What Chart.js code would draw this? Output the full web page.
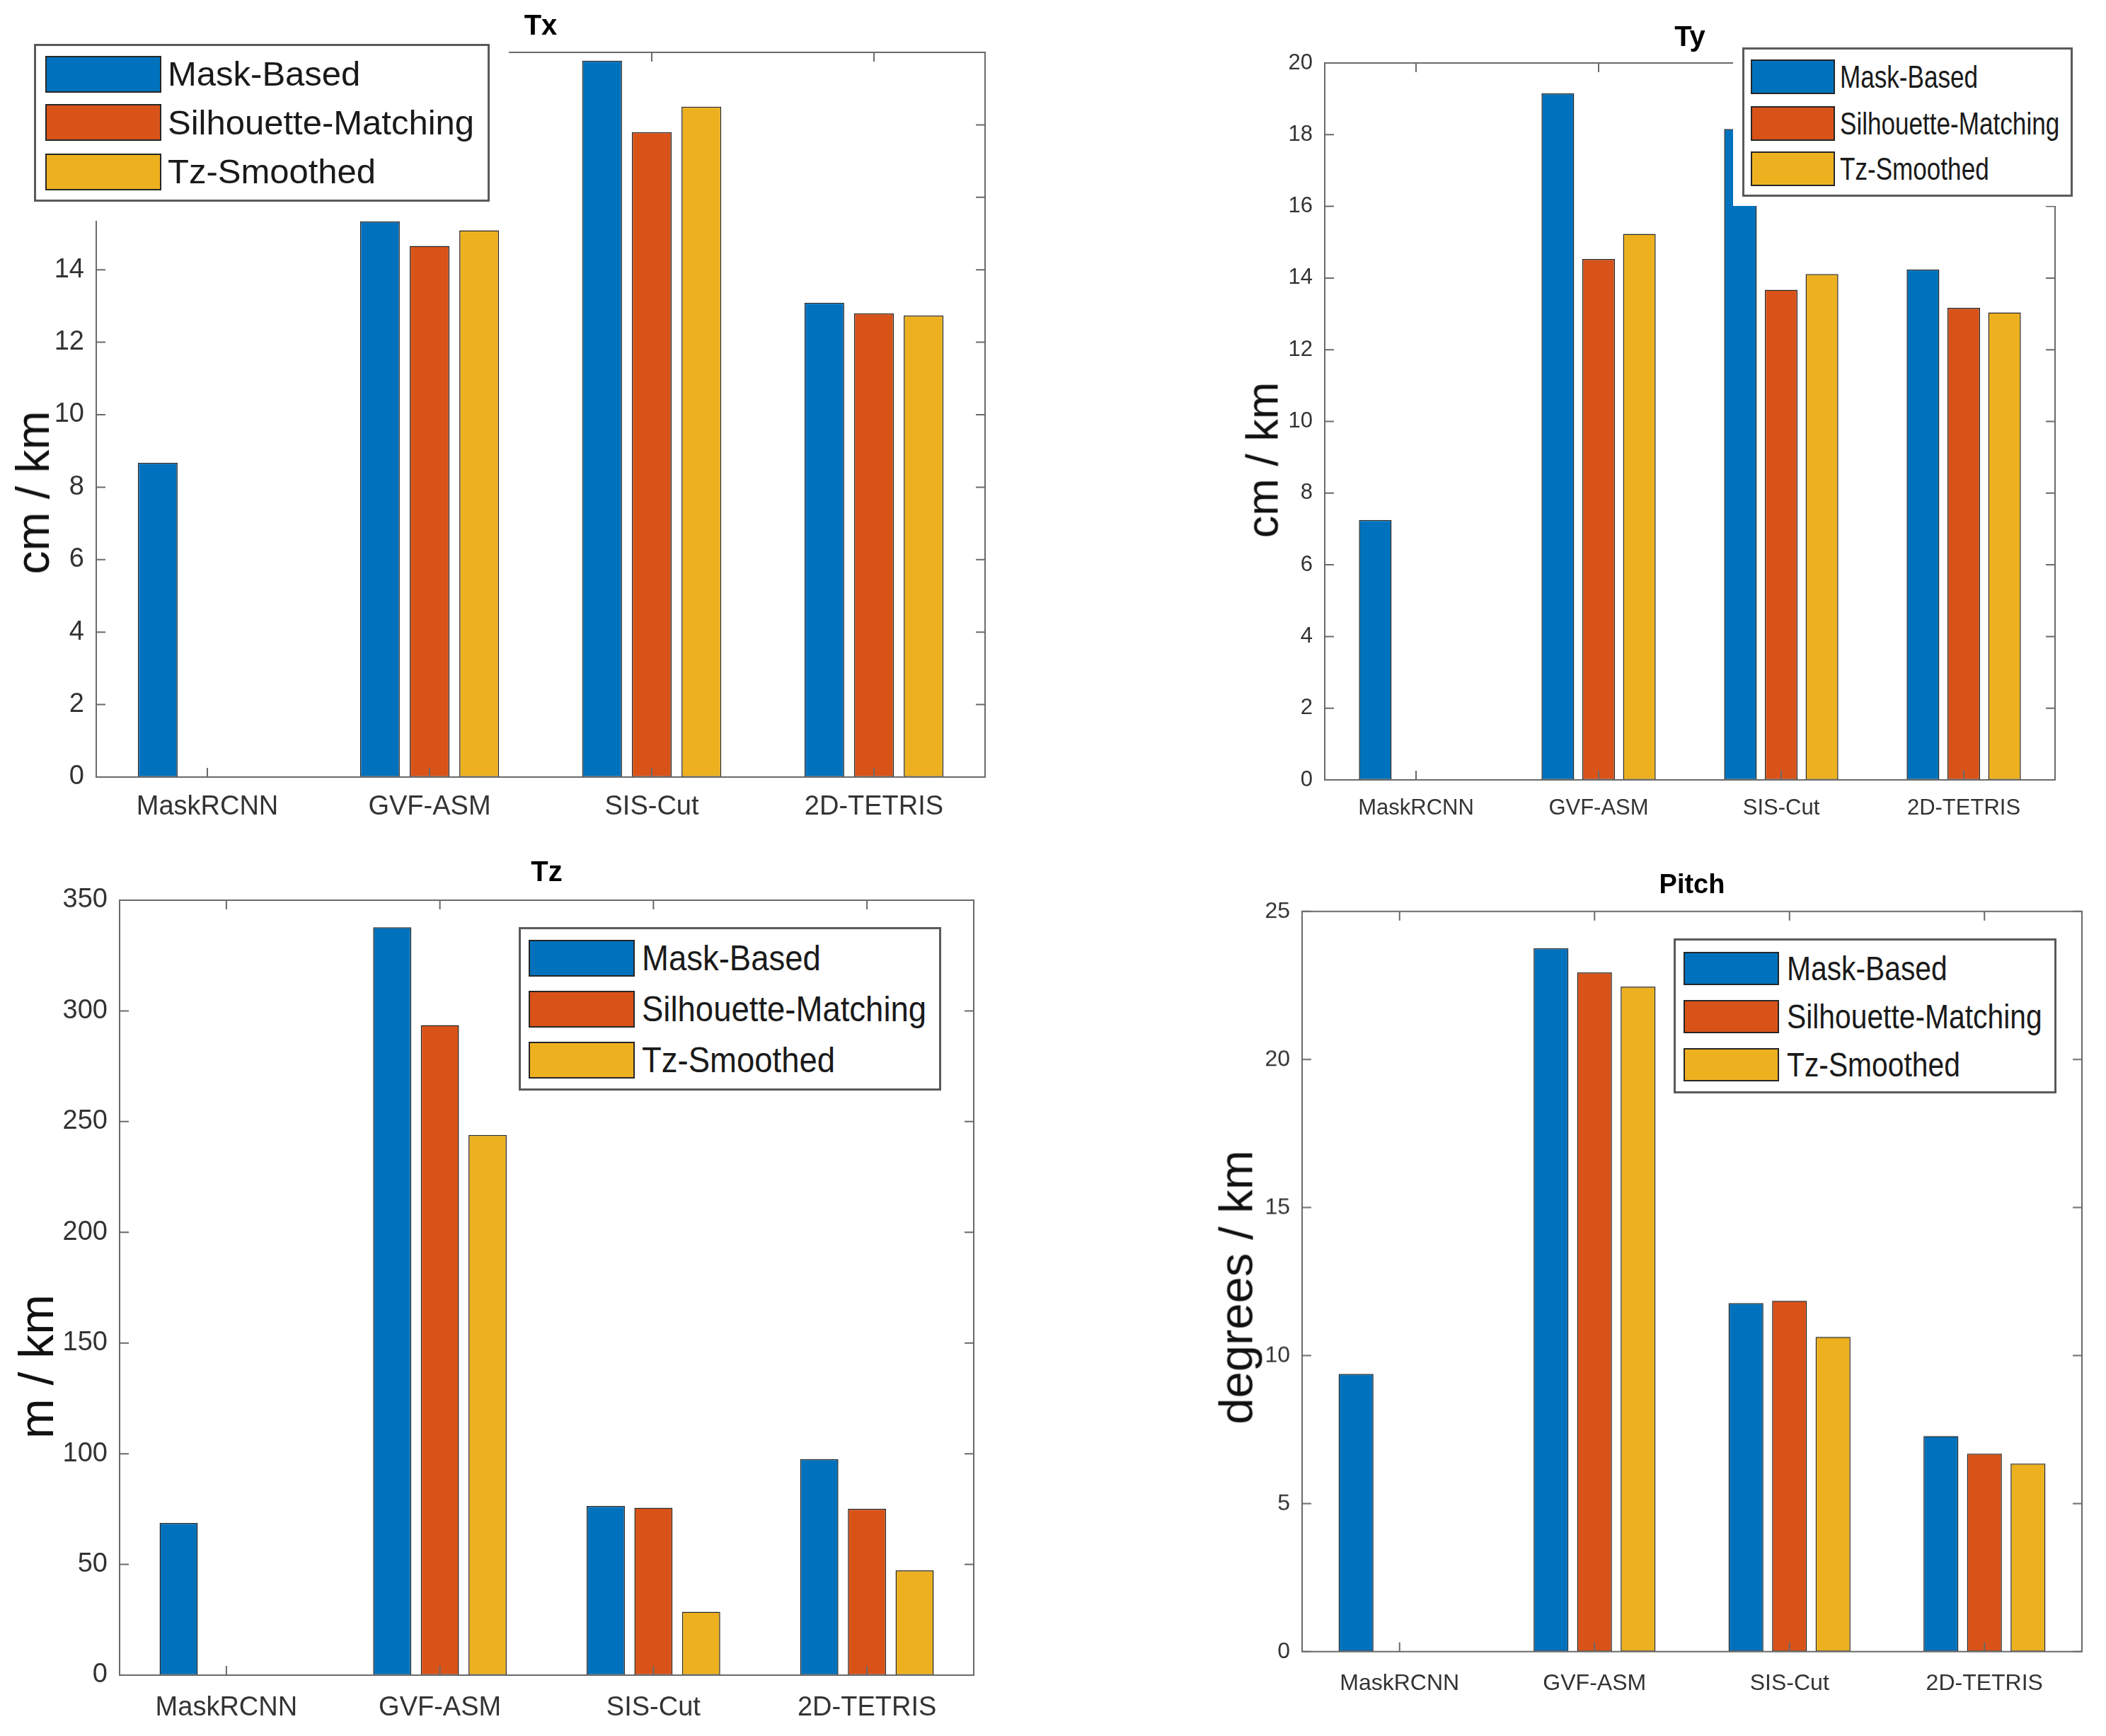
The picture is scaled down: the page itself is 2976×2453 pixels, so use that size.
<!DOCTYPE html>
<html>
<head>
<meta charset="utf-8">
<script src="https://cdn.jsdelivr.net/npm/chart.js@4.4.1/dist/chart.umd.min.js"></script>
<style>
  html, body { margin: 0; padding: 0; background: #fff; }
  body { width: 2976px; height: 2453px; position: relative; overflow: hidden;
         font-family: 'Liberation Sans', Arial, sans-serif; }
  .panel { position: absolute; }
  .wipe { position: absolute; background: #fff; }
  .lbox { position: absolute; border: 3px solid #5a5a5a; background: #fff; box-sizing: border-box; }
  .sw { position: absolute; border: 2px solid #262626; box-sizing: border-box; }
  .lt { position: absolute; white-space: nowrap; color: #1a1a1a; line-height: 1;
        transform-origin: left center; }
  .yl { position: absolute; white-space: nowrap; color: #111; line-height: 1;
        transform: translate(-50%, -50%) rotate(-90deg); }
</style>
</head>
<body>
<script>
/* 4개 패널(Tx, Ty, Tz, Pitch) — MATLAB 스타일 그룹 막대 */

const CATS = ['MaskRCNN', 'GVF-ASM', 'SIS-Cut', '2D-TETRIS'];
const SERIES = ['Mask-Based', 'Silhouette-Matching', 'Tz-Smoothed'];
const COLORS = ['#0072BD', '#D95319', '#EDB120'];

// Tx (cm / km)
const TX_MASK = [8.67, 15.33, 19.77, 13.09];
const TX_SIL  = [0, 14.66, 17.80, 12.80];
const TX_TZS  = [0, 15.09, 18.50, 12.74];
const TX_TICKS = [0, 2, 4, 6, 8, 10, 12, 14, 16, 18, 20];

// Ty (cm / km)
const TY_MASK = [7.25, 19.15, 18.16, 14.24];
const TY_SIL  = [0, 14.53, 13.67, 13.17];
const TY_TZS  = [0, 15.23, 14.11, 13.04];
const TY_TICKS = [0, 2, 4, 6, 8, 10, 12, 14, 16, 18, 20];

// Tz (m / km)
const TZ_MASK = [68.7, 337.8, 76.4, 97.6];
const TZ_SIL  = [0, 293.6, 75.6, 75.1];
const TZ_TZS  = [0, 244.0, 28.6, 47.3];
const TZ_TICKS = [0, 50, 100, 150, 200, 250, 300, 350];

// Pitch (degrees / km)
const PI_MASK = [9.38, 23.76, 11.77, 7.28];
const PI_SIL  = [0, 22.94, 11.85, 6.69];
const PI_TZS  = [0, 22.46, 10.63, 6.35];
const PI_TICKS = [0, 5, 10, 15, 20, 25];

const FONT = "'Liberation Sans', Arial, sans-serif";
const AXIS = '#6a6a6a', TXT = '#333', EDGE = '#262626';
const WY = 110, HX = 80, PADR = 20, TICKLEN = 13;

// 배치 (px)
const PANELS = [
  { title: 'Tx', ylab: 'cm / km', data: [TX_MASK, TX_SIL, TX_TZS], ticks: TX_TICKS,
    area: [136, 74, 1392, 1098], titleY: 38, tick: 38, titleFont: 40, xPad: 20,
    yl: [46, 696, 66],
    lg: { box: [48, 62, 692, 285], wipe: 27, sw: [64, 228], rows: [104.5, 173, 242.5], rh: 52, tx: 237, fs: 49, sx: 1 } },
  { title: 'Ty', ylab: 'cm / km', data: [TY_MASK, TY_SIL, TY_TZS], ticks: TY_TICKS,
    area: [1872, 89, 2904, 1102], titleY: 54, tick: 31, titleFont: 40, xPad: 22,
    yl: [1784, 650, 63],
    lg: { box: [2462, 67, 2929, 278], wipe: 13, sw: [2474, 2593], rows: [108, 174, 238.5], rh: 49, tx: 2600, fs: 45, sx: 0.78 } },
  { title: 'Tz', ylab: 'm / km', data: [TZ_MASK, TZ_SIL, TZ_TZS], ticks: TZ_TICKS,
    area: [169, 1272, 1376, 2367], titleY: 1234, tick: 38, titleFont: 40, xPad: 24,
    yl: [51, 1931, 68],
    lg: { box: [733, 1310, 1330, 1541], wipe: 8, sw: [747, 897], rows: [1354, 1426, 1498], rh: 52, tx: 907, fs: 50, sx: 0.91 } },
  { title: 'Pitch', ylab: 'degrees / km', data: [PI_MASK, PI_SIL, PI_TZS], ticks: PI_TICKS,
    area: [1840, 1288, 2942, 2333], titleY: 1252, tick: 32, titleFont: 38, xPad: 26,
    yl: [1746, 1819, 67],
    lg: { box: [2365, 1326, 2906, 1545], wipe: 8, sw: [2379, 2514], rows: [1368.5, 1436.5, 1504.5], rh: 47, tx: 2525, fs: 48, sx: 0.85 } },
];

// MATLAB 박스 + 안쪽 눈금
const matlabBox = {
  id: 'matlabBox',
  afterDraw(chart) {
    const { ctx, chartArea: a, scales: { x, y } } = chart;
    ctx.save();
    ctx.strokeStyle = AXIS;
    ctx.lineWidth = 2;
    ctx.strokeRect(a.left, a.top, a.right - a.left, a.bottom - a.top);
    ctx.beginPath();
    y.ticks.forEach(t => {
      const py = y.getPixelForValue(t.value);
      ctx.moveTo(a.left, py); ctx.lineTo(a.left + TICKLEN, py);
      ctx.moveTo(a.right, py); ctx.lineTo(a.right - TICKLEN, py);
    });
    CATS.forEach((c, i) => {
      const px = x.getPixelForValue(i);
      ctx.moveTo(px, a.bottom); ctx.lineTo(px, a.bottom - TICKLEN);
      ctx.moveTo(px, a.top); ctx.lineTo(px, a.top + TICKLEN);
    });
    ctx.stroke();
    ctx.restore();
  }
};

function el(cls, css, text) {
  const d = document.createElement('div');
  d.className = cls;
  Object.assign(d.style, css);
  if (text) d.textContent = text;
  document.body.appendChild(d);
  return d;
}

PANELS.forEach(p => {
  const [L, T, R, B] = p.area;
  const tLine = p.titleFont * 1.2;
  const top = p.titleY - tLine / 2;
  const left = L - WY;
  const wrap = el('panel', {
    left: left + 'px', top: top + 'px',
    width: (R - left + PADR) + 'px', height: (B - top + HX) + 'px'
  });
  const cv = document.createElement('canvas');
  wrap.appendChild(cv);

  new Chart(cv, {
    type: 'bar',
    data: {
      labels: CATS,
      datasets: SERIES.map((s, i) => ({
        label: s, data: p.data[i], backgroundColor: COLORS[i],
        borderColor: EDGE, borderWidth: 1.5, borderSkipped: false,
        categoryPercentage: 0.67, barPercentage: 0.8,
      })),
    },
    options: {
      responsive: true, maintainAspectRatio: false, animation: false,
      layout: { padding: { left: 0, right: PADR, top: 0, bottom: 0 } },
      plugins: {
        legend: { display: false },
        tooltip: { enabled: false },
        title: {
          display: true, text: p.title, fullSize: false, color: '#000',
          font: { family: FONT, size: p.titleFont, weight: 'bold' },
          padding: { top: 0, bottom: T - top - tLine },
        },
      },
      scales: {
        x: {
          grid: { display: false, drawTicks: false }, border: { display: false },
          ticks: { color: TXT, font: { family: FONT, size: p.tick }, padding: p.xPad },
          afterFit: s => { s.height = HX; },
        },
        y: {
          min: p.ticks[0], max: p.ticks[p.ticks.length - 1],
          grid: { display: false, drawTicks: false }, border: { display: false },
          ticks: { color: TXT, font: { family: FONT, size: p.tick }, padding: 17 },
          afterBuildTicks: s => { s.ticks = p.ticks.map(v => ({ value: v })); },
          afterFit: s => { s.width = WY; },
        },
      },
    },
    plugins: [matlabBox],
  });

  // y축 제목
  el('yl', { left: p.yl[0] + 'px', top: p.yl[1] + 'px', fontSize: p.yl[2] + 'px' }, p.ylab);

  // 범례 (축 위를 덮는 흰 영역 포함)
  const g = p.lg, [bx0, by0, bx1, by1] = g.box, w = g.wipe;
  el('wipe', { left: (bx0 - w) + 'px', top: (by0 - w) + 'px',
               width: (bx1 - bx0 + 2 * w) + 'px', height: (by1 - by0 + 2 * w) + 'px' });
  el('lbox', { left: bx0 + 'px', top: by0 + 'px', width: (bx1 - bx0) + 'px', height: (by1 - by0) + 'px' });
  SERIES.forEach((s, i) => {
    const cy = g.rows[i];
    el('sw', { left: g.sw[0] + 'px', top: (cy - g.rh / 2) + 'px',
               width: (g.sw[1] - g.sw[0]) + 'px', height: g.rh + 'px', background: COLORS[i] });
    el('lt', { left: g.tx + 'px', top: (cy - g.fs / 2) + 'px', fontSize: g.fs + 'px',
               transform: `scaleX(${g.sx})` }, s);
  });
});
</script>
</body>
</html>
